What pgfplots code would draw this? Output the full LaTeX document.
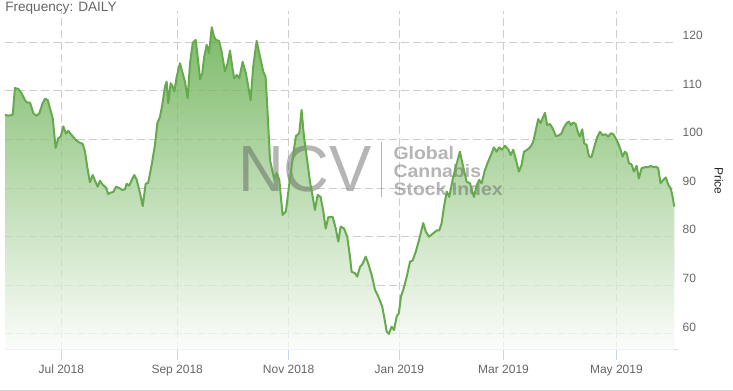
\documentclass[border=0pt]{standalone}
\usepackage{pgfplots}
\usepackage{pgfplotstable}
\usepackage{fontspec}
\setmainfont{Liberation Sans}
\pgfplotsset{compat=1.18}
\definecolor{linegreen}{RGB}{102,170,78}
\definecolor{filltop}{RGB}{82,164,55}
\definecolor{fillbot}{RGB}{250,252,249}
\definecolor{gridgray}{RGB}{205,205,205}
\definecolor{axisblue}{RGB}{204,214,235}
\definecolor{labgray}{RGB}{102,102,102}
\definecolor{wmgray}{RGB}{90,90,90}
\pgfplotstableread{
d p
-30.8 105.1
-29.0 104.9
-26.6 105.1
-25.4 110.6
-23.5 110.4
-21.7 109.5
-19.9 108.1
-18.6 107.6
-17.1 107.6
-15.3 105.4
-13.5 104.9
-12.0 105.4
-10.2 107.5
-8.9 108.4
-7.4 108.1
-6.2 106.4
-4.7 104.4
-3.1 98.3
-1.6 100.3
-0.3 100.6
1.1 102.7
2.6 101.2
3.8 101.8
5.7 100.9
8.0 99.9
9.9 99.4
11.7 99.1
13.0 97.5
14.2 94.4
15.7 91.2
17.2 92.7
18.5 91.5
19.9 90.3
21.2 91.5
22.7 90.7
24.5 90.1
25.7 88.8
27.2 89.1
28.5 89.2
30.0 90.3
31.8 90.0
33.6 89.6
34.9 89.8
35.8 90.9
37.2 90.5
38.6 91.7
40.0 92.7
41.3 91.7
43.1 89.0
44.6 86.3
46.2 90.9
47.6 91.1
49.5 94.8
51.3 98.9
52.6 103.4
54.0 104.6
55.3 107.1
56.8 110.9
57.7 111.9
58.6 107.5
59.9 111.6
61.0 110.9
61.9 109.9
63.2 112.9
65.0 115.7
66.5 113.6
67.7 111.9
69.2 108.5
70.5 115.7
72.0 119.9
73.6 120.5
75.0 116.0
76.0 112.4
77.2 113.6
78.3 117.1
79.6 119.5
80.9 117.8
82.4 123.1
83.6 121.2
84.7 120.5
86.4 120.3
87.8 118.1
89.6 114.0
91.1 115.7
92.4 118.3
93.6 115.0
94.7 112.6
96.1 113.3
97.5 112.6
99.3 116.0
101.1 113.6
102.4 110.9
103.7 108.1
105.1 115.0
107.0 120.3
108.8 117.1
110.6 114.0
111.9 112.9
113.0 105.4
114.3 95.8
116.5 92.0
118.0 93.1
119.4 91.7
121.2 84.5
123.0 85.2
124.9 91.0
126.7 96.2
128.5 100.7
130.3 101.3
131.6 106.1
132.9 100.6
134.4 96.5
136.2 91.3
137.7 88.2
138.9 85.5
140.4 88.6
142.0 88.2
143.5 85.2
144.8 81.7
146.2 84.0
148.6 84.1
150.3 81.7
151.7 79.0
153.0 82.1
154.8 81.7
156.6 80.0
158.1 75.9
159.0 72.8
160.8 72.5
162.1 71.8
163.6 73.8
165.0 74.4
166.7 75.9
168.1 74.5
170.0 72.1
171.8 69.1
173.6 67.7
175.8 65.6
177.3 62.5
178.2 60.5
179.4 60.0
180.9 61.5
182.2 60.8
183.7 63.6
184.9 64.3
186.0 67.7
187.3 69.1
189.2 71.8
191.0 74.9
192.4 75.1
194.1 76.9
195.9 79.3
198.2 82.8
199.7 81.0
201.4 80.0
203.7 80.7
205.6 81.3
207.0 81.3
208.3 82.8
209.6 86.2
211.1 89.3
212.5 88.2
214.3 91.7
216.1 94.4
218.3 97.5
220.1 94.4
222.0 91.3
223.8 91.0
226.0 88.2
227.5 90.6
228.9 91.7
230.2 91.0
232.0 93.7
233.8 95.5
235.7 97.2
236.9 98.4
238.4 97.5
239.8 98.4
241.2 97.9
243.0 98.7
244.8 98.0
246.1 96.8
247.5 97.9
249.0 95.8
250.6 93.4
252.1 94.8
253.4 97.5
255.2 97.9
257.0 98.5
258.5 99.6
259.9 102.0
261.2 104.2
262.5 103.4
263.6 104.4
264.9 105.5
266.1 103.0
267.6 103.2
269.1 102.3
270.9 100.7
272.7 100.9
274.0 101.3
275.3 102.5
276.8 103.4
278.0 103.7
279.1 103.0
280.4 103.5
281.7 103.2
283.1 101.3
284.0 100.6
285.3 102.1
286.4 99.2
287.7 98.9
289.0 96.5
290.4 96.4
291.9 98.5
293.5 100.5
295.0 101.6
296.5 100.9
298.1 101.1
299.5 100.6
301.0 101.3
302.3 101.1
303.6 100.3
305.0 99.2
306.3 97.9
307.4 96.5
308.7 97.5
309.6 97.2
310.9 95.1
312.3 94.9
313.6 93.4
315.1 94.6
316.3 92.0
317.8 94.1
319.6 94.3
321.4 94.3
322.8 94.6
324.2 94.3
325.7 94.4
326.9 94.1
328.2 91.0
329.7 91.7
331.1 92.2
332.4 90.7
333.7 90.0
334.6 88.6
335.7 86.2
}\ncvdata
\begin{document}
\begin{tikzpicture}
\useasboundingbox (0,0) rectangle (549.75pt,293.25pt);
\begin{axis}[
  at={(3.75pt,30.75pt)}, anchor=south west,
  scale only axis, width=504pt, height=254.25pt,
  xmin=-30.83, xmax=337.2, ymin=56.7, ymax=126.45,
  axis x line*=bottom, axis y line*=right,
  x axis line style={draw=axisblue, line width=0.75pt, -},
  y axis line style={draw=none, -},
  xtick={0,63.5,124.5,185.1,242.2,304},
  xticklabels={Jul 2018,Sep 2018,Nov 2018,Jan 2019,Mar 2019,May 2019},
  ytick={60,70,...,120},
  tick align=outside, major tick length=7.5pt,
  xtick style={draw=axisblue, line width=0.75pt},
  ytick style={draw=none},
  xmajorgrids, ymajorgrids,
  grid style={draw=gridgray, line width=0.75pt, dash pattern=on 6pt off 3pt},
  tick label style={font=\fontsize{9}{10}\selectfont, text=labgray},
  /pgf/number format/assume math mode=true,
  yticklabel style={anchor=west, xshift=-6.75pt, yshift=5.25pt},
]
\addplot[top color=filltop, bottom color=fillbot, fill opacity=0.75, draw=none] table[x=d,y=p] {\ncvdata} \closedcycle;
\node[anchor=base west, text=wmgray, opacity=0.45, font=\fontsize{49}{49}\selectfont, inner sep=0pt, xscale=0.97] at (rel axis cs:0.3467,0.4661) {NCV};
\draw[wmgray, opacity=0.45, line width=0.75pt] (rel axis cs:0.5603,0.6136) -- (rel axis cs:0.5603,0.4513);
\node[anchor=north west, align=left, text=wmgray, opacity=0.45, font=\bfseries\fontsize{13.5}{13.3}\selectfont, inner sep=0pt, xscale=1.08] at (rel axis cs:0.5778,0.6003) {Global\\Cannabis\\Stock Index};
\addplot[color=linegreen, line width=1.5pt, line join=round] table[x=d,y=p] {\ncvdata};
\end{axis}
\node[anchor=base west, text=labgray, font=\fontsize{10.2}{12}\selectfont, inner sep=0pt] at (3.75pt,284.25pt) {Frequency: DAILY};
\node[rotate=-90, text=black!85, font=\fontsize{9}{10}\selectfont] at (539.25pt,157.5pt) {Price};
\draw[gridgray, line width=0.75pt] (0,0.6pt) -- (549.75pt,0.6pt);
\end{tikzpicture}
\end{document}
